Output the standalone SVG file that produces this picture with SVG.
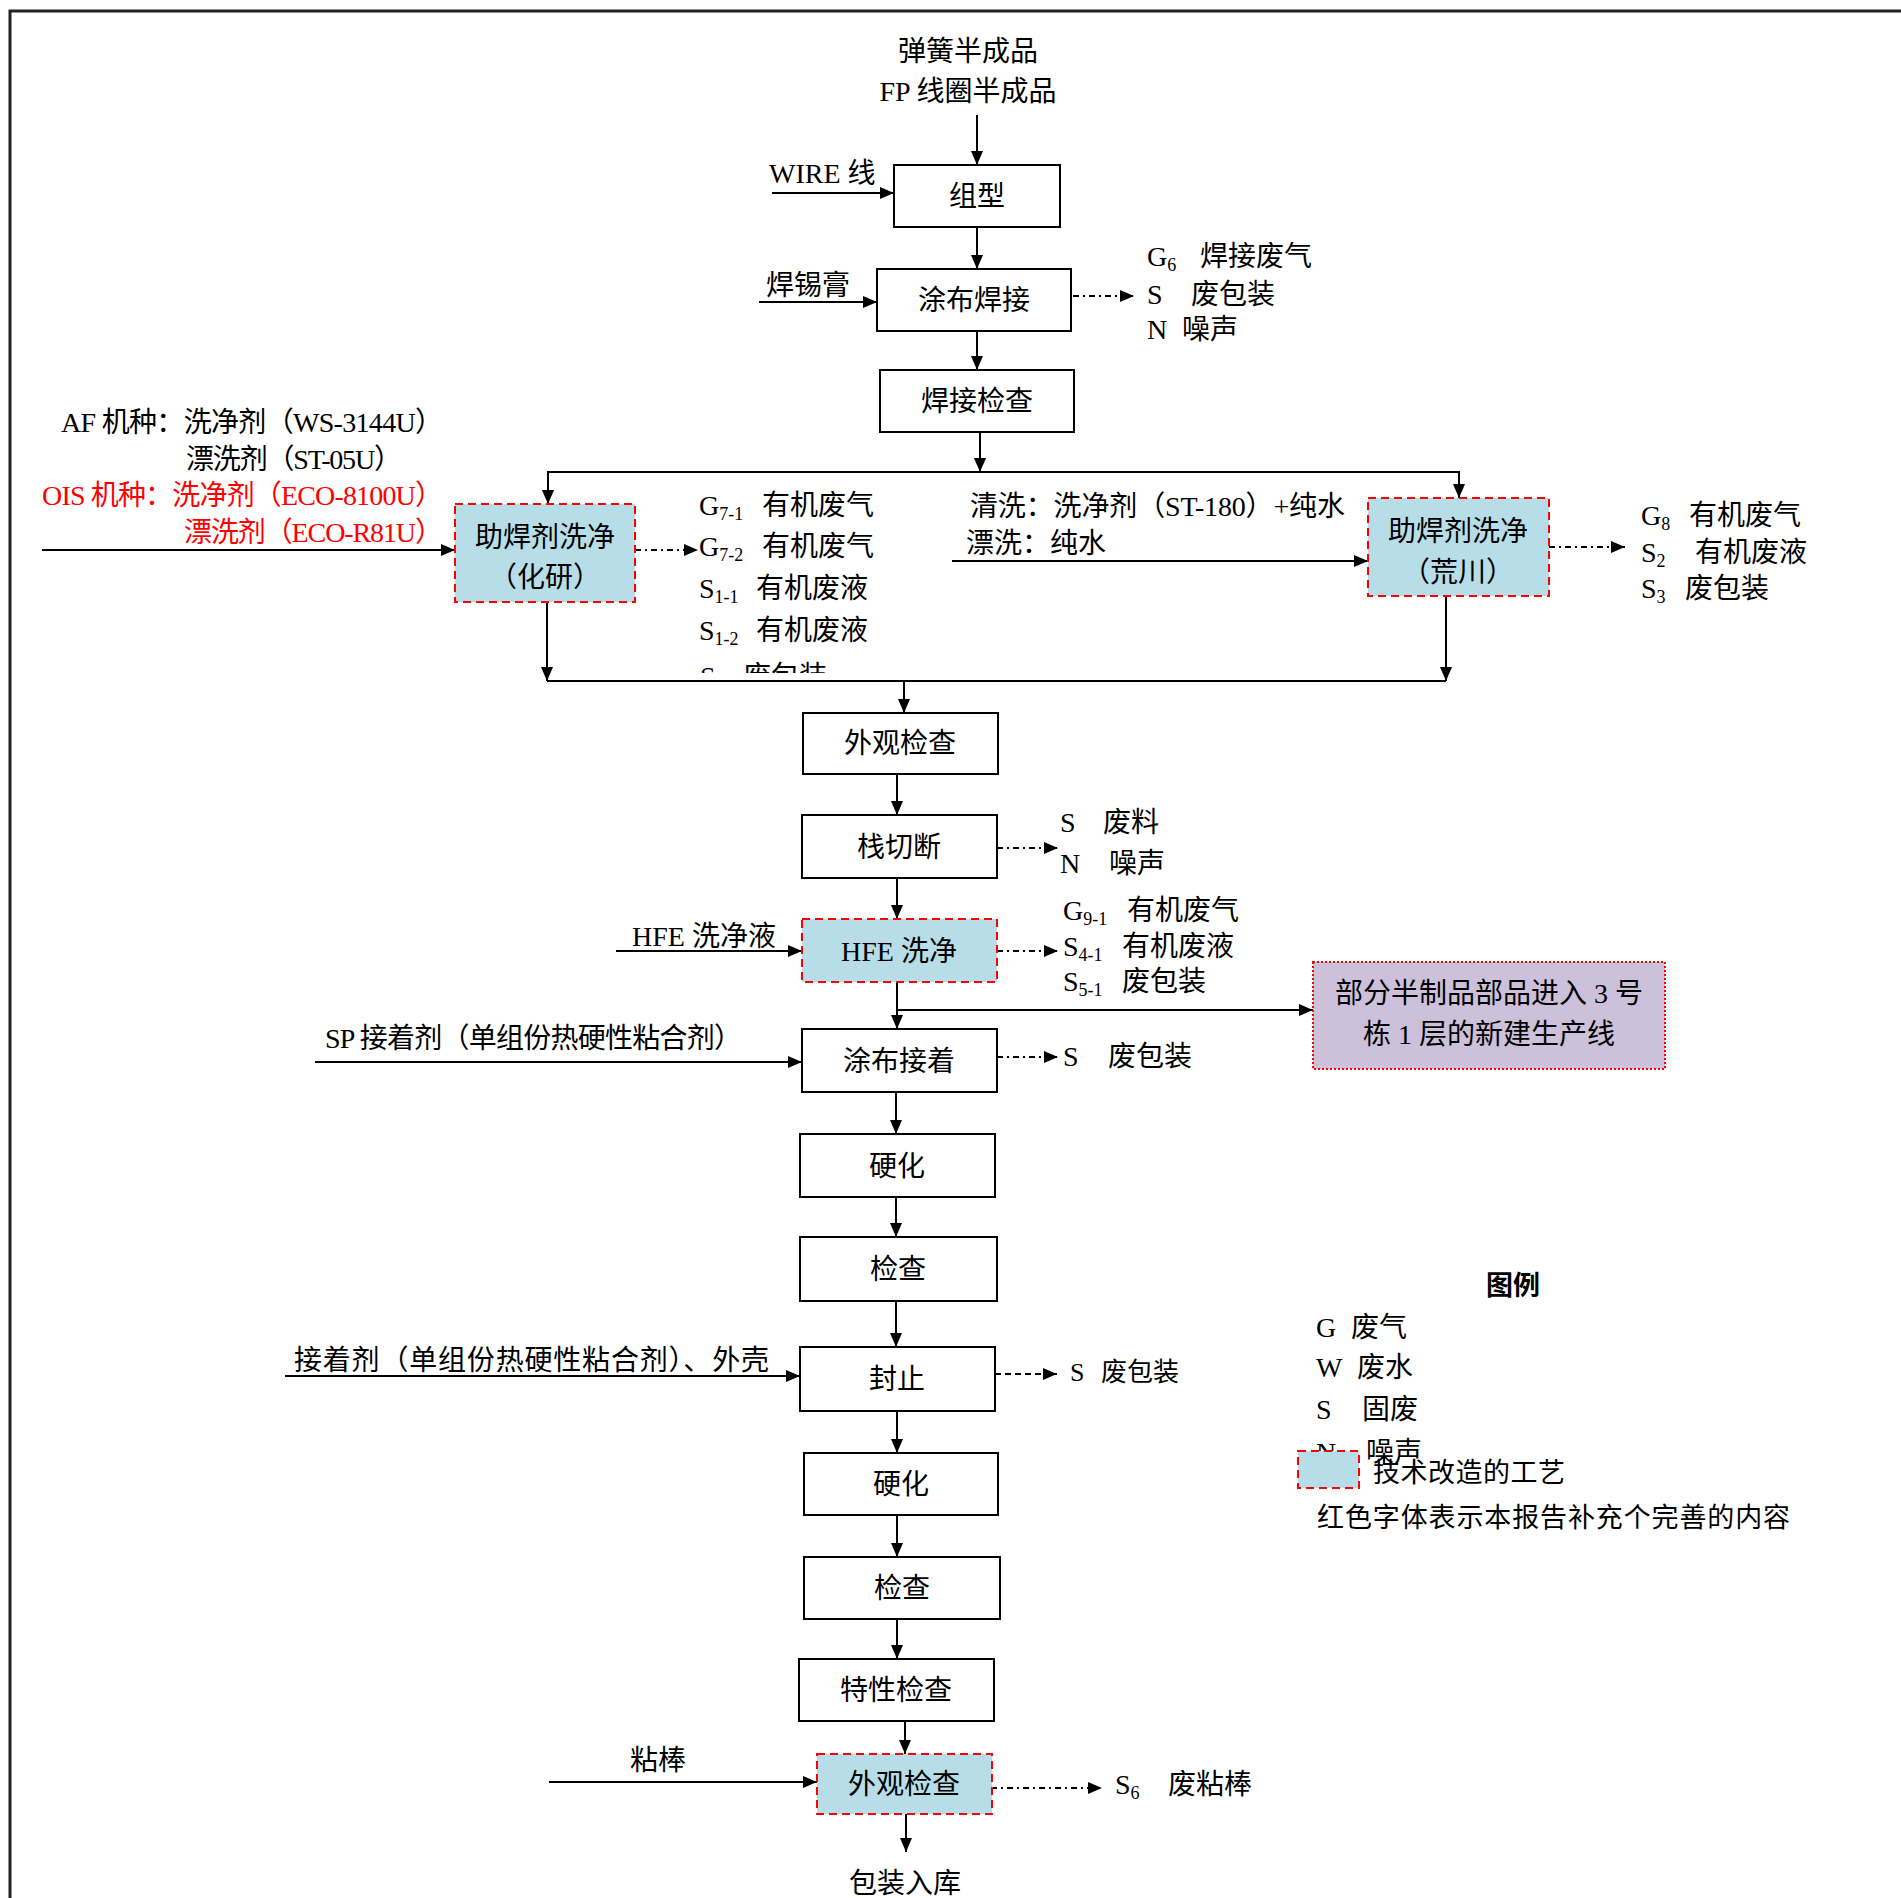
<svg xmlns="http://www.w3.org/2000/svg" width="1901" height="1898" viewBox="0 0 1901 1898">
<defs>
<marker id="ah" viewBox="0 0 14 12" refX="14" refY="6" markerWidth="14" markerHeight="12" markerUnits="userSpaceOnUse" orient="auto"><path d="M0,0 L14,6 L0,12 z" fill="#000"/></marker>
<clipPath id="clipS"><rect x="690" y="600" width="200" height="73"/></clipPath>
</defs>
<style>
text{font-family:"Liberation Serif","Noto Sans CJK SC",serif;font-size:28px;fill:#000}
.c{text-anchor:middle}
.red{fill:#FF0000}
.sub{font-size:18px}
.box{fill:#fff;stroke:#000;stroke-width:2}
.mod{fill:#B7DDE8;stroke:#FF0000;stroke-width:2;stroke-dasharray:8 5}
.purple{fill:#CCC0DA;stroke:#FF0000;stroke-width:2;stroke-dasharray:2 2}
.ln{fill:none;stroke:#000;stroke-width:2}
.arr{fill:none;stroke:#000;stroke-width:2;marker-end:url(#ah)}
.dd{fill:none;stroke:#000;stroke-width:2;stroke-dasharray:6 4 2 4;marker-end:url(#ah)}
.ds{fill:none;stroke:#000;stroke-width:2;stroke-dasharray:6 4;marker-end:url(#ah)}
.leg{font-family:"Noto Sans CJK SC",sans-serif;font-size:27px}
</style>
<rect width="1901" height="1898" fill="#fff"/>
<g id="frame"><path d="M10,1898 V11 H1901" fill="none" stroke="#222" stroke-width="3"/></g>

<g id="connectors">
<path class="arr" d="M977,115 V165"/>
<path class="arr" d="M772,193 H894"/>
<path class="arr" d="M977,227 V269"/>
<path class="arr" d="M759,302 H877"/>
<path class="dd" d="M1073,296 H1134"/>
<path class="arr" d="M977,331 V370"/>
<path class="arr" d="M980,432 V472"/>
<path class="ln" d="M547,472 H1460"/>
<path class="arr" d="M548,472 V504"/>
<path class="arr" d="M1459,472 V498"/>
<path class="arr" d="M42,550 H455"/>
<path class="dd" d="M635,550 H698"/>
<path class="arr" d="M952,561 H1368"/>
<path class="dd" d="M1549,547 H1625"/>
<path class="arr" d="M547,602 V681"/>
<path class="arr" d="M1446,596 V681"/>
<path class="ln" d="M547,681 H1446"/>
<path class="arr" d="M904,681 V713"/>
<path class="arr" d="M897,774 V815"/>
<path class="dd" d="M997,848 H1058"/>
<path class="arr" d="M897,878 V919"/>
<path class="arr" d="M616,951 H802"/>
<path class="dd" d="M997,951 H1058"/>
<path class="arr" d="M897,982 V1029"/>
<path class="arr" d="M897,1010 H1313"/>
<path class="arr" d="M315,1062 H802"/>
<path class="dd" d="M997,1057 H1058"/>
<path class="arr" d="M896,1092 V1134"/>
<path class="arr" d="M896,1197 V1237"/>
<path class="arr" d="M896,1301 V1347"/>
<path class="arr" d="M285,1376 H800"/>
<path class="ds" d="M995,1374 H1057"/>
<path class="arr" d="M897,1411 V1453"/>
<path class="arr" d="M897,1515 V1557"/>
<path class="arr" d="M897,1619 V1659"/>
<path class="arr" d="M905,1721 V1754"/>
<path class="arr" d="M549,1782 H817"/>
<path class="dd" d="M991,1788 H1102"/>
<path class="arr" d="M906,1814 V1852"/>
</g>

<g id="n-input-top">
<text class="c" x="968" y="61">弹簧半成品</text>
<text class="c" x="968" y="101">FP 线圈半成品</text>
</g>
<g id="n-zuxing"><rect class="box" x="894" y="165" width="166" height="62"/><text class="c" x="977" y="206">组型</text></g>
<g id="l-wire"><text x="769" y="183">WIRE 线</text></g>
<g id="n-tubuhanjie"><rect class="box" x="877" y="269" width="194" height="62"/><text class="c" x="974" y="310">涂布焊接</text></g>
<g id="l-hanxigao"><text x="766" y="295">焊锡膏</text></g>
<g id="o-tubuhanjie">
<text x="1147" y="266">G<tspan class="sub" dy="5">6</tspan><tspan x="1200" dy="-5">焊接废气</tspan></text>
<text x="1147" y="304">S<tspan x="1191">废包装</tspan></text>
<text x="1147" y="339">N<tspan x="1182">噪声</tspan></text>
</g>
<g id="n-hanjiejiancha"><rect class="box" x="880" y="370" width="194" height="62"/><text class="c" x="977" y="411">焊接检查</text></g>

<g id="l-af">
<text x="61" y="432" textLength="382" lengthAdjust="spacing">AF 机种：洗净剂（WS-3144U）</text>
<text x="186" y="469" textLength="216" lengthAdjust="spacing">漂洗剂（ST-05U）</text>
<text class="red" x="42" y="505" textLength="401" lengthAdjust="spacing">OIS 机种：洗净剂（ECO-8100U）</text>
<text class="red" x="184" y="542" textLength="259" lengthAdjust="spacing">漂洗剂（ECO-R81U）</text>
</g>
<g id="n-huayan"><rect class="mod" x="455" y="504" width="180" height="98"/><text class="c" x="545" y="547">助焊剂洗净</text><text class="c" x="545" y="587">（化研）</text></g>
<g id="o-huayan">
<text x="699" y="515">G<tspan class="sub" dy="5">7-1</tspan><tspan x="762" dy="-5">有机废气</tspan></text>
<text x="699" y="556">G<tspan class="sub" dy="5">7-2</tspan><tspan x="762" dy="-5">有机废气</tspan></text>
<text x="699" y="598">S<tspan class="sub" dy="5">1-1</tspan><tspan x="756" dy="-5">有机废液</tspan></text>
<text x="699" y="640">S<tspan class="sub" dy="5">1-2</tspan><tspan x="756" dy="-5">有机废液</tspan></text>
<text x="700" y="686" clip-path="url(#clipS)">S<tspan x="743">废包装</tspan></text>
</g>
<g id="l-qingxi">
<text x="970" y="516" textLength="375" lengthAdjust="spacing">清洗：洗净剂（ST-180）+纯水</text>
<text x="966" y="553">漂洗：纯水</text>
</g>
<g id="n-huangchuan"><rect class="mod" x="1368" y="498" width="181" height="98"/><text class="c" x="1458" y="541">助焊剂洗净</text><text class="c" x="1458" y="582">（荒川）</text></g>
<g id="o-huangchuan">
<text x="1641" y="525">G<tspan class="sub" dy="5">8</tspan><tspan x="1689" dy="-5">有机废气</tspan></text>
<text x="1641" y="562">S<tspan class="sub" dy="5">2</tspan><tspan x="1695" dy="-5">有机废液</tspan></text>
<text x="1641" y="598">S<tspan class="sub" dy="5">3</tspan><tspan x="1685" dy="-5">废包装</tspan></text>
</g>

<g id="n-waiguan1"><rect class="box" x="803" y="713" width="195" height="61"/><text class="c" x="900" y="753">外观检查</text></g>
<g id="n-zhanqieduan"><rect class="box" x="802" y="815" width="195" height="63"/><text class="c" x="899" y="857">栈切断</text></g>
<g id="o-zhanqieduan">
<text x="1060" y="832">S<tspan x="1103">废料</tspan></text>
<text x="1060" y="873">N<tspan x="1109">噪声</tspan></text>
</g>
<g id="l-hfe"><text x="632" y="946">HFE 洗净液</text></g>
<g id="n-hfe"><rect class="mod" x="802" y="919" width="195" height="63"/><text class="c" x="899" y="961">HFE 洗净</text></g>
<g id="o-hfe">
<text x="1063" y="920">G<tspan class="sub" dy="5">9-1</tspan><tspan x="1127" dy="-5">有机废气</tspan></text>
<text x="1063" y="956">S<tspan class="sub" dy="5">4-1</tspan><tspan x="1122" dy="-5">有机废液</tspan></text>
<text x="1063" y="991">S<tspan class="sub" dy="5">5-1</tspan><tspan x="1122" dy="-5">废包装</tspan></text>
</g>
<g id="n-newline"><rect class="purple" x="1313" y="962" width="352" height="107"/>
<text class="c" x="1489" y="1003">部分半制品部品进入 3 号</text>
<text class="c" x="1489" y="1044">栋 1 层的新建生产线</text></g>
<g id="l-sp"><text x="325" y="1048" textLength="417" lengthAdjust="spacing">SP 接着剂（单组份热硬性粘合剂）</text></g>
<g id="n-tubujiezhao"><rect class="box" x="802" y="1029" width="195" height="63"/><text class="c" x="899" y="1071">涂布接着</text></g>
<g id="o-tubujiezhao"><text x="1063" y="1066">S<tspan x="1108">废包装</tspan></text></g>
<g id="n-yinghua1"><rect class="box" x="800" y="1134" width="195" height="63"/><text class="c" x="897" y="1176">硬化</text></g>
<g id="n-jiancha1"><rect class="box" x="800" y="1237" width="197" height="64"/><text class="c" x="898" y="1279">检查</text></g>
<g id="l-jiezhaoji"><text x="294" y="1370" textLength="475" lengthAdjust="spacing">接着剂（单组份热硬性粘合剂）、外壳</text></g>
<g id="n-fengzhi"><rect class="box" x="800" y="1347" width="195" height="64"/><text class="c" x="897" y="1389">封止</text></g>
<g id="o-fengzhi"><text x="1070" y="1381" style="font-size:26px">S<tspan x="1101">废包装</tspan></text></g>
<g id="n-yinghua2"><rect class="box" x="804" y="1453" width="194" height="62"/><text class="c" x="901" y="1494">硬化</text></g>
<g id="n-jiancha2"><rect class="box" x="804" y="1557" width="196" height="62"/><text class="c" x="902" y="1598">检查</text></g>
<g id="n-texing"><rect class="box" x="799" y="1659" width="195" height="62"/><text class="c" x="896" y="1700">特性检查</text></g>
<g id="l-zhanbang"><text x="630" y="1770">粘棒</text></g>
<g id="n-waiguan2"><rect class="mod" x="817" y="1754" width="175" height="60"/><text class="c" x="904" y="1794">外观检查</text></g>
<g id="o-waiguan2"><text x="1115" y="1794">S<tspan class="sub" dy="5">6</tspan><tspan x="1168" dy="-5">废粘棒</tspan></text></g>
<g id="n-output"><text class="c" x="905" y="1893">包装入库</text></g>

<g id="legend">
<text class="c" x="1513" y="1295" style="font-family:'Noto Sans CJK SC',sans-serif;font-weight:bold;font-size:27px">图例</text>
<text x="1316" y="1337">G<tspan x="1351">废气</tspan></text>
<text x="1316" y="1377">W<tspan x="1357">废水</tspan></text>
<text x="1316" y="1419">S<tspan x="1362">固废</tspan></text>
<text x="1316" y="1462">N<tspan x="1366">噪声</tspan></text>
<rect class="mod" x="1298" y="1451" width="61" height="37"/>
<text class="leg" x="1373" y="1482" textLength="192" lengthAdjust="spacing">技术改造的工艺</text>
<text class="leg" x="1317" y="1527" textLength="473" lengthAdjust="spacing">红色字体表示本报告补充个完善的内容</text>
</g>
</svg>
